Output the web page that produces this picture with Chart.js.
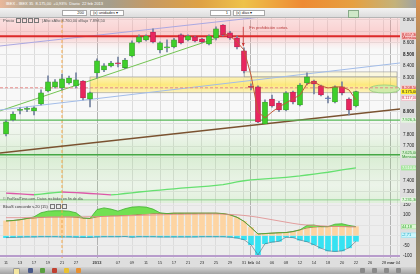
<!DOCTYPE html>
<html>
<head>
<meta charset="utf-8">
<script src="https://cdn.jsdelivr.net/npm/chart.js@4.4.1/dist/chart.umd.min.js"></script>
<style>
  html, body { margin: 0; padding: 0; }
  body { width: 420px; height: 274px; overflow: hidden; position: relative; background: #d6d6d6; font-family: "Liberation Sans", Arial, sans-serif; }
  .abs { position: absolute; }
  #topbar { left: 0; top: 0; width: 420px; height: 8px; background: linear-gradient(90deg, #e9b79a 0%, #b9aa94 6%, #a59e8c 26%, #c79a62 36%, #dfa244 48%, #eec24a 58%, #ee8a34 72%, #e6a040 84%, #c4b27a 94%, #9aa0a8 100%); }
  #title { left: 6px; top: 1px; font-size: 4px; color: #fff; white-space: nowrap; }
  #toolbar { left: 0; top: 8px; width: 420px; height: 10px; background: linear-gradient(#f3f3f3, #dcdcdc); border-bottom: 1px solid #b5b5b5; box-sizing: border-box; }
  .inp, .sel { position: absolute; top: 2px; height: 6px; background: #fff; border: 1px solid #a8a8a8; font-size: 4px; line-height: 4px; box-sizing: border-box; color: #222; white-space: nowrap; }
  .inp { text-align: right; padding-right: 2px; }
  .sel { padding-left: 2px; }
  .hdr { font-size: 4px; color: #555; white-space: nowrap; }
  .ico { display: inline-block; width: 3px; height: 3px; border: 0.5px solid #777; margin-left: 1px; vertical-align: middle; }
  #bottombar { left: 0; top: 267px; width: 420px; height: 7px; background: linear-gradient(#d4d4d4, #a2a2a2); }
  .bi { position: absolute; top: 268px; width: 5px; height: 5px; border-radius: 1px; }
  #edge { left: 416px; top: 0; width: 4px; height: 274px; background: linear-gradient(#d89050, #8a8a70 30%, #7a7a6a 70%, #a09070); }
</style>
</head>
<body>
<div id="topbar" class="abs"></div>
<div id="title" class="abs">IBEX - IBEX 35 &nbsp;8.175,00 &nbsp;+0,93% &nbsp;Diario &nbsp;22 feb 2013</div>
<div id="toolbar" class="abs">
  <div class="inp" style="left:62px;width:25px">200</div>
  <div class="sel" style="left:90px;width:34px">(x) unidades ▾</div>
  <div class="inp" style="left:210px;width:21px">1</div>
  <div class="sel" style="left:233px;width:32px">(x) días ▾</div>
  <div class="abs" style="left:348px;top:2px;width:9px;height:6px;background:#cfe8c8;border:0.5px solid #8a8"></div>
</div>

<canvas id="priceChart" class="abs" width="420" height="185" style="left:0;top:18px;background:#dedede"></canvas>
<canvas id="oscChart" class="abs" width="420" height="64" style="left:0;top:203px;background:#dedede"></canvas>

<div class="abs hdr" style="left:3px;top:18px">Precio <span class="ico"></span><span class="ico"></span><span class="ico"></span><span class="ico"></span> &nbsp;| Alto xAlto 8.760,00 xBajo 7.898,50</div>
<div class="abs hdr" style="left:3px;top:197px;font-size:3.6px">© ProRealTime.com. Datos recibidos en fin de día</div>
<div class="abs hdr" style="left:3px;top:204px;color:#333">BlauS concorde v.20 (15) <span class="ico"></span><span class="ico"></span><span class="ico"></span></div>

<div id="bottombar" class="abs"></div>
<div class="bi" style="left:13px;background:#f4e6a0;border:0.5px solid #999"></div>
<div class="bi" style="left:28px;background:#4a5a8a"></div>
<div class="bi" style="left:40px;background:#5aa040"></div>
<div class="bi" style="left:52px;background:#c04030"></div>
<div class="bi" style="left:64px;background:#e8c030"></div>
<div class="bi" style="left:76px;background:#e89030"></div>
<div class="bi" style="left:360px;background:#8a8a8a"></div>
<div class="bi" style="left:372px;background:#8a8a8a"></div>
<div class="bi" style="left:384px;background:#8a8a8a"></div>
<div class="bi" style="left:396px;background:#8a8a8a"></div>
<div id="edge" class="abs"></div>

<script>
const FONT = '"Liberation Sans", Arial, sans-serif';

// trading days, index 0 = 11 dic 2012 ... 50 = 22 feb 2013
const tickIdx  = [0, 2, 4, 6, 8, 10, 13, 16, 18, 20, 22, 24, 26, 28, 30, 32, 34, 35, 36, 38, 40, 42, 44, 46, 48, 50, 52, 54, 55, 56];
const tickText = ['11', '13', '17', '19', '21', '27', '2013', '07', '09', '11', '15', '17', '21', '23', '25', '29', '31', 'feb', '04', '06', '08', '12', '14', '18', '20', '22', '26', '28', 'mar', '04'];
const monthStarts = [13, 35, 55];

const opens  = [7806, 7928, 8012, 8020, 8007, 8068, 8181, 8216, 8207, 8251, 8225, 8268, 8111, 8338, 8364, 8399, 8425, 8382, 8486, 8608, 8626, 8695, 8538, 8556, 8565, 8670, 8626, 8652, 8634, 8591, 8643, 8756, 8687, 8643, 8530, 8220, 8216, 7893, 8111, 8076, 8015, 8172, 8059, 8251, 8268, 8225, 8113, 8085, 8216, 8111, 8050];
const highs  = [7928, 7998, 8033, 8040, 8042, 8190, 8312, 8280, 8329, 8310, 8338, 8272, 8172, 8460, 8420, 8440, 8477, 8465, 8617, 8670, 8670, 8722, 8610, 8626, 8640, 8680, 8670, 8660, 8640, 8670, 8739, 8760, 8700, 8660, 8556, 8242, 8225, 8103, 8146, 8090, 8175, 8180, 8245, 8338, 8275, 8233, 8137, 8225, 8260, 8120, 8180];
const lows   = [7788, 7919, 7980, 8000, 7972, 8059, 8172, 8207, 8190, 8240, 8207, 8103, 8042, 8294, 8350, 8390, 8390, 8375, 8477, 8600, 8617, 8600, 8512, 8521, 8556, 8591, 8617, 8608, 8600, 8582, 8626, 8660, 8630, 8547, 8338, 8190, 7905, 7898.5, 8040, 8000, 8007, 8068, 8050, 8233, 8155, 8138, 8076, 8076, 8146, 7972, 8042];
const closes = [7911, 7980, 8020, 8026, 8033, 8164, 8260, 8260, 8286, 8294, 8277, 8120, 8164, 8443, 8399, 8425, 8417, 8451, 8600, 8652, 8660, 8608, 8600, 8565, 8626, 8600, 8660, 8617, 8608, 8660, 8722, 8669, 8643, 8565, 8355, 8212, 7911, 8085, 8050, 8015, 8164, 8085, 8233, 8303, 8242, 8146, 8113, 8216, 8164, 8015, 8175];

// long moving average (pink falling / green rising)
const maLong = [7290, 7287, 7283, 7280, 7276, 7282, 7289, 7295, 7300, 7297, 7294, 7291, 7287, 7283, 7279, 7275, 7280, 7287, 7293, 7300, 7306, 7312, 7317, 7323, 7328, 7333, 7338, 7342, 7347, 7352, 7358, 7365, 7376, 7388, 7398, 7405, 7410, 7414, 7418, 7423, 7428, 7434, 7440, 7448, 7456, 7464, 7472, 7482, 7492, 7501, 7510];
// short moving average, from index 31
const maShortStart = 31;
const maShort = [8687, 8661, 8608, 8538, 8320, 7998, 7946, 7998, 8042, 8076, 8111, 8146, 8242, 8260, 8225, 8207, 8216, 8216, 8190, 8103];

// horizontal levels
const levelMensualHigh = 8657.3;
const levelDashed = 8208.5;
const levelGreen = 7926.34;
const levelMensualLow = 7625;
const levelBottom = 7231.3;

// trendlines [index, price]
const trendLavender = [[-0.86, 8573], [56.29, 8960]];
const trendBlue = [[-0.86, 8015], [56.29, 8425]];
const trendGreen = [[-0.86, 8007], [30.14, 8643]];
const trendBrown = [[-0.86, 7640], [56.29, 8024]];

// zones
const pinkZone = [8540, 8817];
const yellowZone = [8165, 8303];
const yellowZoneStart = 12;
const greyZone = [8303, 8347];
const greyZoneStart = 34.1;
const greenZone = [7204, 7975];
const ellipseCenter = [54.07, 8198];
const ellipseRadius = [2.2, 35];
const markerDay = 8;
const shortBanDay = 33.9;
const shortBanFrom = 8740;
const shortBanTo = 8572;

// right axis
const priceTicks = [7300, 7400, 7500, 7600, 7700, 7800, 7900, 8000, 8100, 8200, 8300, 8400, 8500, 8600, 8700, 8800];
const priceShown = [7300, 7400, 7700, 7800, 8000, 8300, 8400, 8500, 8600, 8800];
const priceBold = [8000, 8500];
const tagValues = [8657.3, 8208.5, 8175, 8117, 7926.34, 7625, 7510, 7231.3];
const tagTexts = ['8.657,30', '8.208,50', '8.175,00', '8.117,00', '7.926,34', '7.625,00', '7.510,04', '7.231,30'];
const tagSub = ['Mensual', '', '', '', '', 'Mensual', '', ''];

// BlauS oscillator
const blauHist = [72, 74, 78, 84, 86, 90, 92, 92, 92, 92, 90, 86, 84, 92, 96, 98, 98, 100, 102, 104, 106, 108, 108, 108, 110, 110, 110, 110, 110, 110, 110, 108, 102, 90, 70, 40, 8, 10, 12, 14, 15, 20, 28, 38, 42, 44, 44, 46, 46, 44, 44];
const blauUpper = [72, 74, 78, 84, 92, 112, 120, 122, 122, 120, 112, 86, 84, 128, 136, 130, 120, 132, 140, 142, 140, 130, 112, 108, 110, 110, 110, 110, 110, 110, 110, 108, 102, 90, 70, 40, 8, 10, 12, 14, 15, 20, 28, 50, 52, 44, 44, 56, 58, 50, 44];
const blauNeg = [-10, -9, -8, -7, -7, -6, -6, -6, -7, -7, -8, -9, -9, -7, -6, -6, -6, -5, -8, -6, -6, -6, -7, -7, -7, -7, -7, -7, -6, -6, -6, -6, -8, -12, -20, -45, -95, -40, -32, -28, -8, -10, -22, -30, -45, -62, -75, -78, -75, -60, -28];
const blauSignal = [88, 88, 88, 89, 89, 90, 90, 91, 91, 92, 92, 92, 93, 93, 94, 95, 96, 97, 98, 99, 100, 101, 102, 103, 104, 104, 105, 105, 106, 106, 106, 105, 104, 102, 99, 95, 90, 84, 78, 72, 66, 60, 55, 52, 50, 48, 46, 45, 44, 43, 43];
const blauFloor = -100;
const oscTicks = [-100, -50, 0, 50, 100, 150];
const oscShown = [-100, -50, 100, 150];
const oscTagValues = [44, 2];
const oscTagTexts = ['44,18', '-2,71'];

const xMin = -0.86, xMax = 56.29;
const priceMin = 7204, priceMax = 8817;
const oscMin = -110, oscMax = 160;

const days = opens.map((_, i) => i);
const pts = arr => arr.map(([x, y]) => ({ x, y }));
const level = v => [{ x: xMin, y: v }, { x: xMax, y: v }];

function line(data, color, width, extra) {
    return Object.assign({
        type: 'line', data, borderColor: color, borderWidth: width,
        pointRadius: 0, fill: false, tension: 0, order: 3
    }, extra || {});
}

function xScale(showLabels) {
    return {
        type: 'linear', min: xMin, max: xMax, offset: false,
        grid: {
            offset: false, drawTicks: false,
            color: ctx => monthStarts.includes(ctx.tick && ctx.tick.value) ? '#b2b2b2' : '#dcdcdc'
        },
        border: { display: false },
        afterBuildTicks: s => { s.ticks = tickIdx.map(v => ({ value: v })); },
        ticks: {
            display: showLabels, autoSkip: false, maxRotation: 0, minRotation: 0, padding: 2,
            color: '#333',
            font: ctx => ({ family: FONT, size: 4, weight: monthStarts.includes(ctx.tick && ctx.tick.value) ? 'bold' : 'normal' }),
            callback: v => tickText[tickIdx.indexOf(v)]
        },
        afterFit: s => {
            s.height = showLabels ? 9 : 0;
            s.paddingLeft = 0; s.paddingRight = 0;
        }
    };
}

function yScale(min, max, ticks, shown, fmt, bold) {
    return {
        type: 'linear', position: 'right', min, max,
        grid: { color: '#e3e3e3', drawTicks: false },
        border: { display: false },
        afterBuildTicks: s => { s.ticks = ticks.map(v => ({ value: v })); },
        ticks: {
            padding: 3, color: '#222', autoSkip: false,
            font: ctx => ({ family: FONT, size: 4.5, weight: bold.includes(ctx.tick && ctx.tick.value) ? 'bold' : 'normal' }),
            callback: v => shown.includes(v) ? fmt(v) : ''
        },
        afterFit: s => {
            s.width = 20;
            s.paddingTop = 0; s.paddingBottom = 0;
        }
    };
}

const areaFill = color => ({
    id: 'areaFill',
    beforeDraw(chart) {
        const { ctx, chartArea: a } = chart;
        ctx.save();
        ctx.fillStyle = color;
        ctx.fillRect(a.left, a.top, a.width, a.height);
        ctx.restore();
    }
});

function tagPlugin(values, texts, subs, styles) {
    return {
        id: 'tags',
        afterDraw(chart) {
            const { ctx, chartArea: a, scales: { y } } = chart;
            const left = a.right + 1;
            ctx.save();
            ctx.textBaseline = 'middle';
            ctx.font = '4px ' + FONT;
            values.forEach((v, i) => {
                const py = y.getPixelForValue(v);
                const st = styles[i];
                const h = subs[i] ? 8 : 5;
                const top = subs[i] ? py - 4.5 : py - 2.5;
                ctx.fillStyle = st.bg;
                ctx.fillRect(left, top, 17, h);
                if (st.edge) {
                    ctx.strokeStyle = st.edge;
                    ctx.lineWidth = 0.5;
                    ctx.strokeRect(left + 0.25, top + 0.25, 16.5, h - 0.5);
                }
                ctx.fillStyle = st.fg;
                ctx.fillText(texts[i], left + 1, top + 2.6);
                if (subs[i]) ctx.fillText(subs[i], left + 1, top + 6.2);
            });
            ctx.restore();
        }
    };
}

const zonePlugin = {
    id: 'zones',
    beforeDatasetsDraw(chart) {
        const { ctx, chartArea: a, scales: { x, y } } = chart;
        ctx.save();
        ctx.beginPath();
        ctx.rect(a.left, a.top, a.width, a.height);
        ctx.clip();

        // pink resistance zone
        let top = y.getPixelForValue(pinkZone[1]), bot = y.getPixelForValue(pinkZone[0]);
        let mid = y.getPixelForValue(levelMensualHigh);
        let g = ctx.createLinearGradient(0, top, 0, bot);
        g.addColorStop(0, 'rgba(255,170,170,0.30)');
        g.addColorStop((mid - top) / (bot - top), 'rgba(255,130,130,0.38)');
        g.addColorStop(1, 'rgba(255,200,200,0)');
        ctx.fillStyle = g;
        ctx.fillRect(a.left, top, a.width, bot - top);

        // green support zone
        top = y.getPixelForValue(greenZone[1]); bot = y.getPixelForValue(greenZone[0]);
        mid = y.getPixelForValue(levelMensualLow);
        g = ctx.createLinearGradient(0, top, 0, bot);
        g.addColorStop(0, 'rgba(160,220,140,0)');
        g.addColorStop((mid - top) / (bot - top) * 0.6, 'rgba(160,220,140,0.16)');
        g.addColorStop((mid - top) / (bot - top), 'rgba(140,210,120,0.30)');
        g.addColorStop(0.8, 'rgba(160,220,140,0.14)');
        g.addColorStop(1, 'rgba(150,215,130,0.25)');
        ctx.fillStyle = g;
        ctx.fillRect(a.left, top, a.width, bot - top);

        // grey box above the yellow zone
        const xr = a.right - 3;
        let xl = x.getPixelForValue(greyZoneStart);
        top = y.getPixelForValue(greyZone[1]); bot = y.getPixelForValue(greyZone[0]);
        ctx.fillStyle = 'rgba(255,245,175,0.35)';
        ctx.fillRect(xl, top, xr - xl, bot - top);
        ctx.strokeStyle = '#9a9a9a';
        ctx.lineWidth = 0.6;
        ctx.strokeRect(xl, top, xr - xl, bot - top);

        // yellow zone
        xl = x.getPixelForValue(yellowZoneStart);
        top = y.getPixelForValue(yellowZone[1]); bot = y.getPixelForValue(yellowZone[0]);
        g = ctx.createLinearGradient(0, top, 0, bot);
        g.addColorStop(0, 'rgba(255,236,130,0.55)');
        g.addColorStop(0.5, 'rgba(255,226,70,0.70)');
        g.addColorStop(1, 'rgba(255,236,140,0.55)');
        ctx.fillStyle = g;
        ctx.fillRect(xl, top, xr - xl, bot - top);
        ctx.strokeRect(xl, top, xr - xl, bot - top);

        // ellipse drawing at right
        const cx = x.getPixelForValue(ellipseCenter[0]);
        const cy = y.getPixelForValue(ellipseCenter[1]);
        const rx = x.getPixelForValue(ellipseCenter[0] + ellipseRadius[0]) - cx;
        const ry = cy - y.getPixelForValue(ellipseCenter[1] + ellipseRadius[1]);
        ctx.beginPath();
        ctx.ellipse(cx, cy, rx, ry, 0, 0, Math.PI * 2);
        ctx.fillStyle = 'rgba(195,235,170,0.75)';
        ctx.fill();
        ctx.strokeStyle = '#88c878';
        ctx.lineWidth = 0.7;
        ctx.stroke();
        ctx.restore();
    },
    afterDatasetsDraw(chart) {
        const { ctx, scales: { x, y } } = chart;
        const ax = x.getPixelForValue(shortBanDay);
        const y0 = y.getPixelForValue(shortBanFrom), y1 = y.getPixelForValue(shortBanTo);
        ctx.save();
        ctx.strokeStyle = '#c83232';
        ctx.fillStyle = '#c83232';
        ctx.lineWidth = 0.8;
        ctx.beginPath();
        ctx.moveTo(ax, y0);
        ctx.lineTo(ax, y1);
        ctx.stroke();
        ctx.beginPath();
        ctx.moveTo(ax - 1.5, y1 - 3);
        ctx.lineTo(ax + 1.5, y1 - 3);
        ctx.lineTo(ax, y1);
        ctx.fill();
        ctx.font = '4px ' + FONT;
        ctx.textBaseline = 'middle';
        ctx.fillStyle = '#b83a3a';
        ctx.fillText('Fin prohibición cortos.', ax + 6, y0 + 1);
        ctx.restore();
    }
};

const candleColor = i => closes[i] > opens[i] ? '#3fcf2a' : closes[i] < opens[i] ? '#e8265e' : '#6f86c8';
const candleEdge = i => closes[i] > opens[i] ? '#2a8a1c' : closes[i] < opens[i] ? '#a31644' : '#4a5ea0';

const priceTagStyles = [
    { bg: '#f6c4c4', fg: '#c81e1e' },
    { bg: '#f6c8c8', fg: '#c81e1e' },
    { bg: '#ffec2a', fg: '#222' },
    { bg: '#fff0f0', fg: '#d04060', edge: '#e8a0b0' },
    { bg: '#e4f6df', fg: '#2f9a2f' },
    { bg: '#d6f0d0', fg: '#2f8a2f' },
    { bg: '#a8e6a0', fg: '#ffffff' },
    { bg: '#e4f6df', fg: '#2f9a2f' }
];

new Chart(document.getElementById('priceChart'), {
    type: 'bar',
    data: {
        datasets: [
            line(level(levelMensualHigh), '#dc2a2a', 2),
            line(level(levelDashed), '#e68a8a', 1, { borderDash: [3, 2] }),
            line(level(levelGreen), '#58b858', 1.2),
            line(level(levelMensualLow), '#45a845', 1.5),
            line(level(levelBottom), '#8fd08f', 1),
            line(pts(trendLavender), '#aaa8e2', 1),
            line(pts(trendBlue), '#a2bce8', 1),
            line(pts(trendGreen), '#72c452', 1),
            line(pts(trendBrown), '#7a5230', 1.5),
            line([{ x: markerDay, y: priceMin }, { x: markerDay, y: priceMax }], '#f2a84a', 1, { borderDash: [3, 2] }),
            line(days.map(i => ({ x: i, y: maLong[i] })), '#66e070', 1.3, {
                segment: { borderColor: c => c.p1.parsed.y < c.p0.parsed.y ? '#dc58a8' : '#66e070' }
            }),
            line(maShort.map((v, k) => ({ x: k + maShortStart, y: v })), '#c2583a', 1, { order: 0 }),
            {
                type: 'bar',
                data: days.map(i => ({ x: i, y: [lows[i], highs[i]] })),
                backgroundColor: '#7482a0',
                barThickness: 1,
                grouped: false,
                order: 2
            },
            {
                type: 'bar',
                data: days.map(i => ({ x: i, y: [opens[i], closes[i]] })),
                backgroundColor: c => candleColor(c.dataIndex),
                borderColor: c => candleEdge(c.dataIndex),
                borderWidth: 0.6,
                borderSkipped: false,
                barThickness: 5,
                minBarLength: 1,
                grouped: false,
                order: 1
            }
        ]
    },
    options: {
        responsive: false,
        animation: false,
        devicePixelRatio: 1,
        events: [],
        layout: { padding: 0 },
        scales: {
            x: xScale(false),
            y: yScale(priceMin, priceMax, priceTicks, priceShown, v => (v / 1000).toFixed(3), priceBold)
        },
        plugins: { legend: { display: false }, tooltip: { enabled: false } }
    },
    plugins: [areaFill('#f8f8f8'), zonePlugin, tagPlugin(tagValues, tagTexts, tagSub, priceTagStyles)]
});

const oscTagStyles = [
    { bg: '#dcf8d4', fg: '#30a030', edge: '#9ad890' },
    { bg: '#ccf6fc', fg: '#1aa0c0', edge: '#8adcec' }
];

new Chart(document.getElementById('oscChart'), {
    type: 'bar',
    data: {
        datasets: [
            {
                type: 'bar',
                data: days.map(i => ({ x: i, y: blauNeg[i] })),
                backgroundColor: '#36e2f2',
                barThickness: 5,
                grouped: false,
                order: 6
            },
            {
                type: 'bar',
                data: days.map(i => ({ x: i, y: blauHist[i] })),
                backgroundColor: '#fdd4a2',
                barThickness: 5,
                grouped: false,
                order: 5
            },
            line(days.map(i => ({ x: i, y: blauHist[i] })), '#9a6a3a', 0.8, { order: 4 }),
            line(days.map(i => ({ x: i, y: blauUpper[i] })), '#40b030', 0.8, {
                order: 3,
                fill: { target: 2, above: '#72e052', below: 'rgba(0,0,0,0)' }
            }),
            line(days.map(i => ({ x: i, y: blauSignal[i] })), '#e08a8a', 0.8, { order: 2 }),
            line(days.map(i => ({ x: i, y: blauNeg[i] })), '#507080', 0.6, { order: 2 }),
            line(level(blauFloor), '#b89ccc', 2, { order: 1 }),
            line([{ x: markerDay, y: oscMin }, { x: markerDay, y: oscMax }], '#f2a84a', 1, { borderDash: [3, 2], order: 1 })
        ]
    },
    options: {
        responsive: false,
        animation: false,
        devicePixelRatio: 1,
        events: [],
        layout: { padding: 0 },
        scales: {
            x: xScale(true),
            y: yScale(oscMin, oscMax, oscTicks, oscShown, v => String(v), [])
        },
        plugins: { legend: { display: false }, tooltip: { enabled: false } }
    },
    plugins: [areaFill('#ededed'), tagPlugin(oscTagValues, oscTagTexts, ['', ''], oscTagStyles)]
});
</script>
</body>
</html>
